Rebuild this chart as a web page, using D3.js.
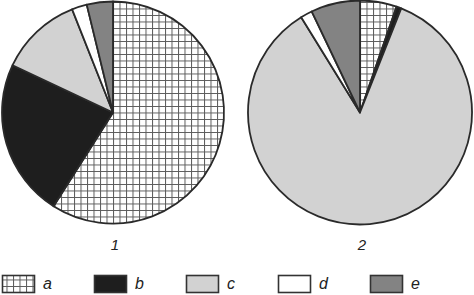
<!DOCTYPE html>
<html><head><meta charset="utf-8">
<script src="https://cdn.jsdelivr.net/npm/d3@7/dist/d3.min.js"></script>
<style>html,body{margin:0;padding:0;background:#fff;}svg{display:block;}</style>
</head><body>
<script>
const categories = ["a", "b", "c", "d", "e"];
const chartLabels = ["1", "2"];
const values1 = [59, 23, 12, 2.2, 3.8];
const values2 = [5.3, 0.7, 85.2, 1.7, 7.1];
const fills = ["url(#grid)", "#1e1e1e", "#d2d2d2", "#ffffff", "#838383"];

const W = 474, H = 295;
const svg = d3.select("body").append("svg").attr("width", W).attr("height", H);

const defs = svg.append("defs");
const S = 6.5;
const pat = defs.append("pattern").attr("id", "grid")
  .attr("patternUnits", "userSpaceOnUse").attr("width", S).attr("height", S);
pat.append("rect").attr("width", S).attr("height", S).attr("fill", "#fff");
pat.append("path").attr("d", `M0,0.5H${S}M0.5,0V${S}`).attr("stroke", "#5a5a5a").attr("stroke-width", 1).attr("fill", "none");

const pie = d3.pie().sort(null).value(d => d);
const pies = [
  {vals: values1, cx: 113, cy: 112.5, r: 111, label: chartLabels[0]},
  {vals: values2, cx: 360, cy: 112.5, r: 112, label: chartLabels[1]}
];

pies.forEach(p => {
  const arc = d3.arc().innerRadius(0).outerRadius(p.r);
  const g = svg.append("g").attr("transform", `translate(${p.cx},${p.cy})`);
  g.selectAll("path").data(pie(p.vals)).join("path")
    .attr("d", arc)
    .attr("fill", (d, i) => fills[i])
    .attr("stroke", "#2a2a2a")
    .attr("stroke-width", 1.8)
    .attr("stroke-linejoin", "round");
  svg.append("text").attr("x", p.cx + 2).attr("y", 250)
    .attr("text-anchor", "middle")
    .attr("font-family", "Liberation Sans, Arial, sans-serif")
    .attr("font-style", "italic").attr("font-size", 15).attr("fill", "#222")
    .text(p.label);
});

const legendX = d3.scalePoint().domain(categories).range([2, 370]);
const lg = svg.append("g");
categories.forEach((c, i) => {
  const x = legendX(c);
  lg.append("rect").attr("x", x + 0.5).attr("y", 275.5).attr("width", 32).attr("height", 17)
    .attr("fill", fills[i]).attr("stroke", "#333").attr("stroke-width", 1.6);
  lg.append("text").attr("x", x + 41).attr("y", 289)
    .attr("font-family", "Liberation Sans, Arial, sans-serif")
    .attr("font-style", "italic").attr("font-size", 16).attr("fill", "#222")
    .text(c);
});
</script>
</body></html>
